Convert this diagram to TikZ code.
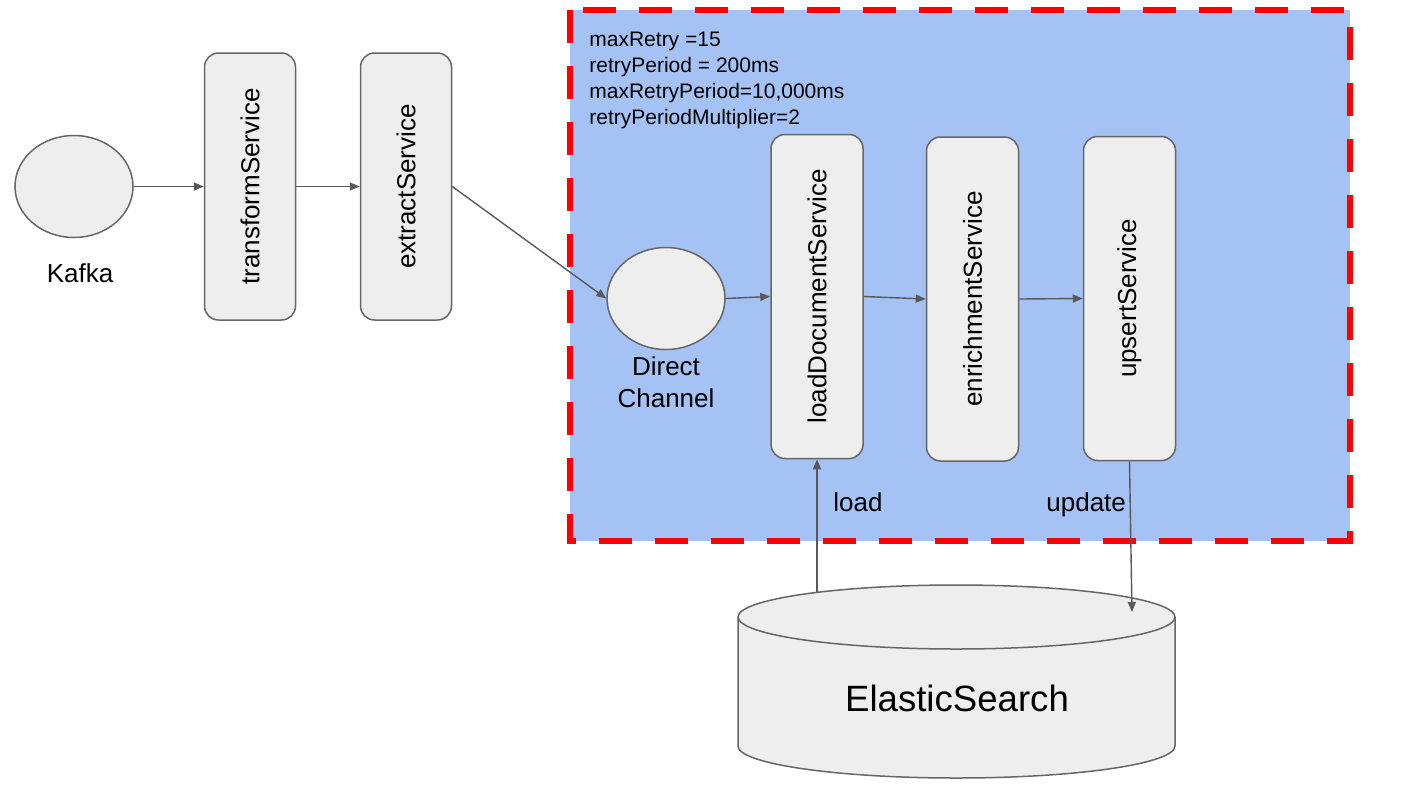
\documentclass[tikz,border=0pt]{standalone}
\usepackage{fontspec}
\setmainfont{Liberation Sans}
\usepackage{graphicx}
\usetikzlibrary{shapes.geometric,arrows.meta}
\definecolor{bluefill}{HTML}{A4C2F4}
\definecolor{grayfill}{HTML}{EEEEEE}
\definecolor{edgec}{HTML}{666666}
\definecolor{linec}{HTML}{595959}
\definecolor{dashred}{HTML}{FF0000}
\begin{document}
\begin{tikzpicture}[x=0.5pt,y=-0.5pt,
  svcbox/.style={draw=edgec,fill=grayfill,line width=0.75pt,rounded corners=7pt,minimum width=45.5pt,minimum height=133.5pt,inner sep=0pt,font=\fontsize{13}{15}\selectfont},
  bigbox/.style={svcbox,minimum width=46pt,minimum height=162pt},
  oval/.style={ellipse,draw=edgec,fill=grayfill,line width=0.75pt,minimum width=59pt,minimum height=51pt,inner sep=0pt},
  conn/.style={draw=linec,line width=0.7pt,-{Triangle[length=5pt,width=4pt]}},
  txt/.style={inner sep=0pt,font=\fontsize{13}{16}\selectfont},
  smalltxt/.style={inner sep=0pt,font=\fontsize{10.5}{13}\selectfont,align=left},
  region/.style={fill=bluefill,draw=dashred,line width=3pt,dash pattern=on 16.5pt off 11.5pt}]
\useasboundingbox (0,0) rectangle (1420,804);

% retry region
\path[region] (570,10) rectangle (1350,541);

% nodes
\node[oval] (kafka) at (74,186.5) {};
\node[txt,anchor=base] (kafkalbl) at (80,282) {Kafka};
\node[svcbox] (tr) at (250,186.5) {\rotatebox{90}{transformService}};
\node[svcbox] (ex) at (406,186.5) {\rotatebox{90}{extractService}};

\node[smalltxt,anchor=base west] (cfg) at (589,124) {maxRetry =15\\retryPeriod = 200ms\\maxRetryPeriod=10,000ms\\retryPeriodMultiplier=2};

\node[oval] (dc) at (666,298.5) {};
\node[txt,align=center,anchor=base] (dclbl) at (666,407) {Direct\\Channel};

\node[bigbox] (ld) at (817,296.5) {\rotatebox{90}{loadDocumentService}};
\node[bigbox] (en) at (972.5,299) {\rotatebox{90}{enrichmentService}};
\node[bigbox] (up) at (1129.5,298.5) {\rotatebox{90}{upsertService}};

% cylinder
\filldraw[draw=edgec,fill=grayfill,line width=0.75pt]
  (738,617) -- (738,746) arc[start angle=180,end angle=360,x radius=109.25pt,y radius=16pt]
  -- (1175,617) arc[start angle=0,end angle=180,x radius=109.25pt,y radius=16pt] -- cycle;
\draw[draw=edgec,line width=0.75pt] (738,617) arc[start angle=180,end angle=360,x radius=109.25pt,y radius=16pt];
\node[inner sep=0pt,font=\fontsize{18.3}{20}\selectfont,anchor=base] (es) at (957,711) {ElasticSearch};
\coordinate (esload) at (817,592);
\coordinate (esupd) at (1132,612);

% connectors
\draw[conn] (kafka.east) -- (tr.west);
\draw[conn] (tr.east) -- (ex.west);
\draw[conn] (ex.east) -- (dc.west);
\draw[conn] (dc.east) -- (ld.west);
\draw[conn] (ld.east) -- (en.west);
\draw[conn] (en.east) -- (up.west);
\draw[conn] (esload) -- (ld.south);
\draw[conn] (up.south) -- (esupd);

\node[txt,anchor=base west] (loadlbl) at (833,511) {load};
\node[txt,anchor=base west] (updlbl) at (1046,511) {update};
\end{tikzpicture}
\end{document}
